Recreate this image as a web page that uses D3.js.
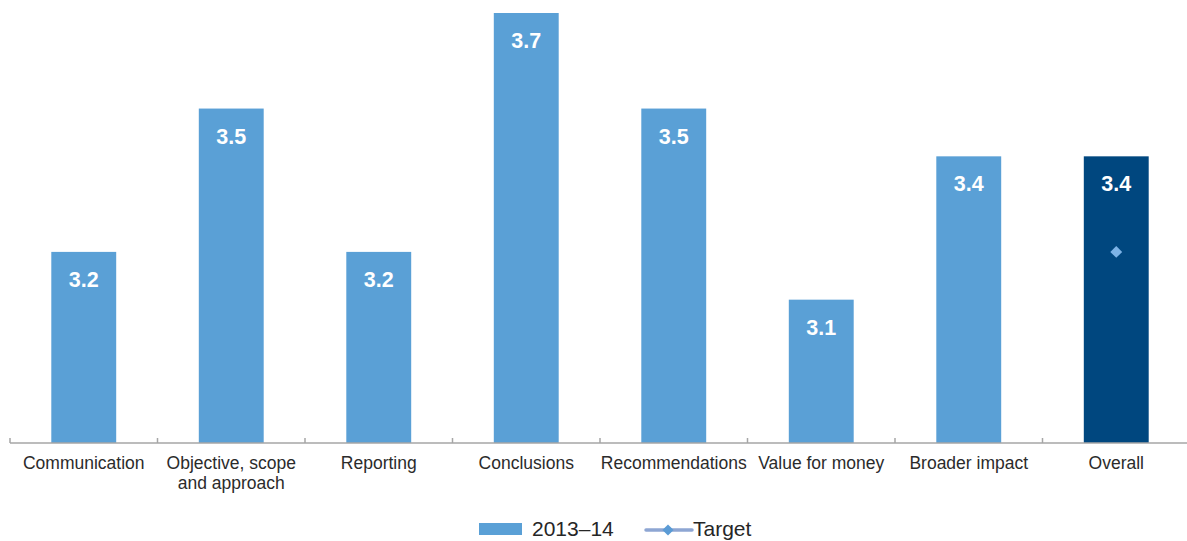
<!DOCTYPE html>
<html>
<head>
<meta charset="utf-8">
<script src="https://cdn.jsdelivr.net/npm/d3@7"></script>
<style>
  html, body { margin: 0; padding: 0; background: #ffffff; }
  svg { display: block; font-family: "Liberation Sans", Arial, sans-serif; }
</style>
</head>
<body>
<svg id="chart" width="1187" height="541"></svg>
<script>
// Average ratings by criterion
const categories = ["Communication", "Objective, scope\nand approach", "Reporting", "Conclusions",
                    "Recommendations", "Value for money", "Broader impact", "Overall"];
const values = [3.2, 3.5, 3.2, 3.7, 3.5, 3.1, 3.4, 3.4];
const targetCategory = "Overall";
const targetValue = 3.2;
const seriesNames = ["2013–14", "Target"];

const svg = d3.select("#chart");

const x = d3.scaleBand()
  .domain(categories)
  .range([10, 1190])
  .paddingInner(0.56)
  .paddingOuter(0.28);

const y = d3.scaleLinear()
  .domain([2.8, 3.7])
  .range([443, 13]);

const barColor = "#5aa0d6";
const overallColor = "#00477f";

// bars
svg.append("g").selectAll("rect")
  .data(categories)
  .join("rect")
  .attr("x", d => x(d))
  .attr("width", x.bandwidth())
  .attr("y", (d, i) => y(values[i]))
  .attr("height", (d, i) => y(2.8) - y(values[i]))
  .attr("fill", d => d === "Overall" ? overallColor : barColor);

// value labels
svg.append("g").selectAll("text")
  .data(categories)
  .join("text")
  .attr("x", d => x(d) + x.bandwidth() / 2)
  .attr("y", (d, i) => y(values[i]) + 35)
  .attr("text-anchor", "middle")
  .attr("fill", "#ffffff")
  .attr("font-weight", "bold")
  .attr("font-size", 21.5)
  .text((d, i) => values[i].toFixed(1));

// target marker
const tx = x(targetCategory) + x.bandwidth() / 2;
const ty = y(targetValue);
svg.append("path")
  .attr("d", d3.symbol(d3.symbolDiamond2, 90)())
  .attr("transform", `translate(${tx},${ty})`)
  .attr("fill", "#7db3e6");

// category axis: baseline with separators between categories
const axisG = svg.append("g");
axisG.append("line")
  .attr("x1", 10).attr("x2", 1187)
  .attr("y1", y(2.8)).attr("y2", y(2.8))
  .attr("stroke", "#a6a6a6").attr("stroke-width", 1.5);
const step = x.step();
const seps = categories.map(c => x(c) - (step - x.bandwidth()) / 2);
axisG.selectAll("line.sep")
  .data(seps)
  .join("line")
  .attr("class", "sep")
  .attr("x1", d => d).attr("x2", d => d)
  .attr("y1", y(2.8) - 5).attr("y2", y(2.8))
  .attr("stroke", "#a6a6a6").attr("stroke-width", 1.5);

// category labels
const labels = svg.append("g").selectAll("text")
  .data(categories)
  .join("text")
  .attr("x", d => x(d) + x.bandwidth() / 2)
  .attr("y", 469)
  .attr("text-anchor", "middle")
  .attr("fill", "#2b2b2b")
  .attr("font-size", 17.5);
labels.each(function(d) {
  const lines = d.split("\n");
  d3.select(this).selectAll("tspan")
    .data(lines)
    .join("tspan")
    .attr("x", x(d) + x.bandwidth() / 2)
    .attr("dy", (l, i) => i === 0 ? 0 : 20)
    .text(l => l);
});

// legend
const legend = svg.append("g");
legend.append("rect")
  .attr("x", 479).attr("y", 523)
  .attr("width", 43).attr("height", 12)
  .attr("fill", barColor);
legend.append("text")
  .attr("x", 532).attr("y", 535.5)
  .attr("font-size", 21)
  .attr("fill", "#262626")
  .text(seriesNames[0]);
legend.append("line")
  .attr("x1", 646).attr("x2", 692)
  .attr("y1", 530).attr("y2", 530)
  .attr("stroke", "#8ea6d3").attr("stroke-width", 3.5)
  .attr("stroke-linecap", "round");
legend.append("path")
  .attr("d", d3.symbol(d3.symbolDiamond2, 80)())
  .attr("transform", "translate(668,530)")
  .attr("fill", "#5b9bd5");
legend.append("text")
  .attr("x", 693).attr("y", 535.5)
  .attr("font-size", 21)
  .attr("fill", "#262626")
  .text(seriesNames[1]);
</script>
</body>
</html>
